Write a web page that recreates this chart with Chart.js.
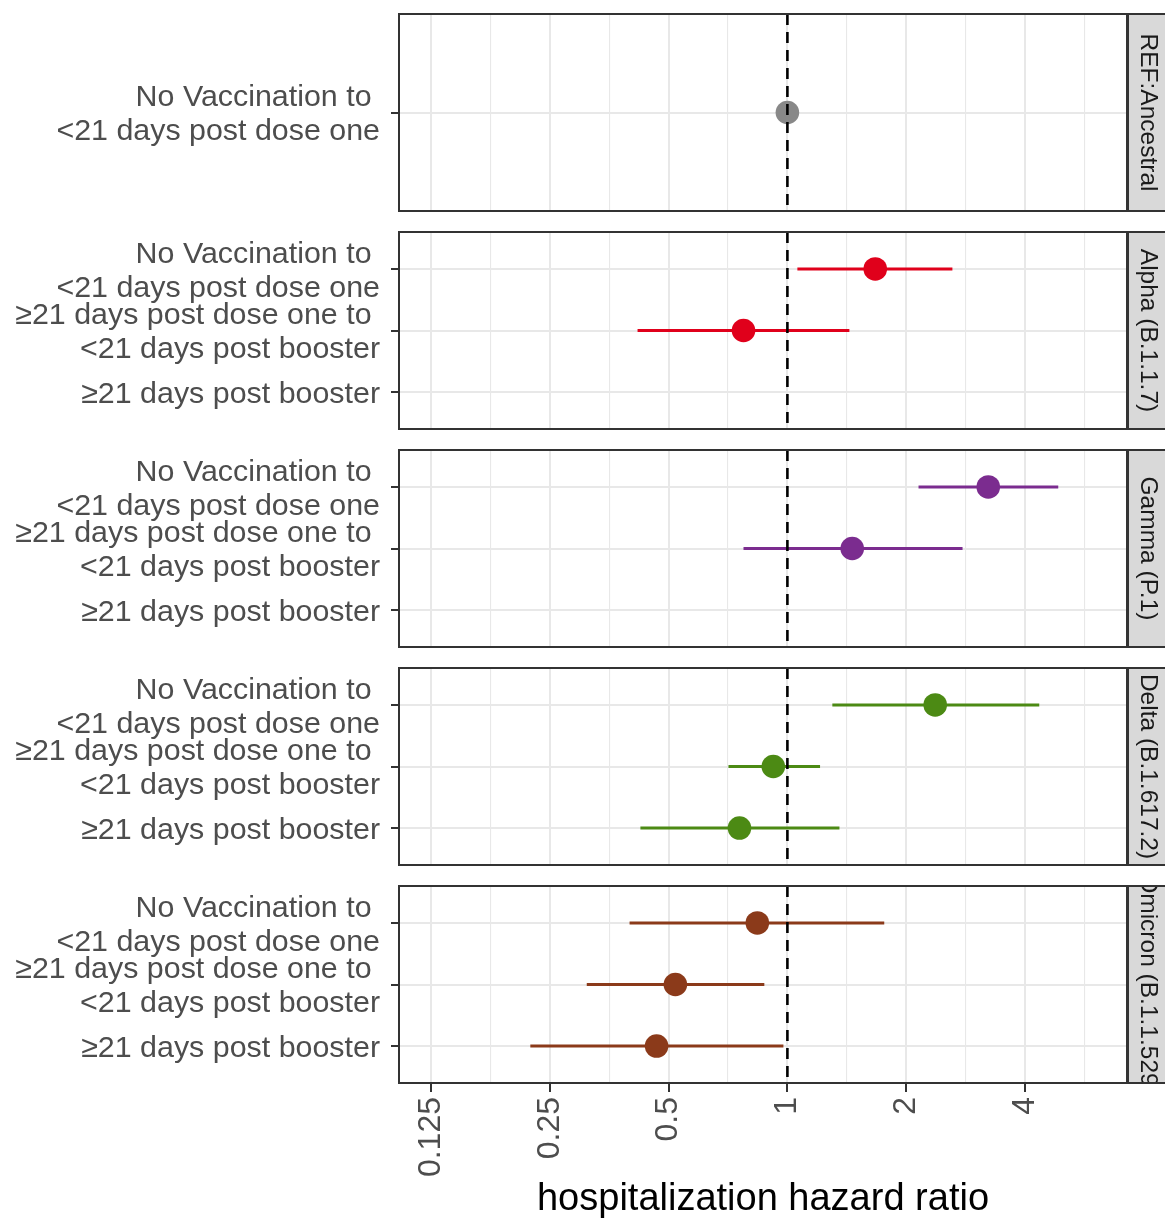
<!DOCTYPE html>
<html>
<head>
<meta charset="utf-8">
<script src="https://cdn.jsdelivr.net/npm/chart.js@4"></script>
<style>
  html, body { margin: 0; padding: 0; background: #fff; overflow: hidden; width: 1165px; height: 1222px; }
  canvas { position: absolute; left: 0; }
</style>
</head>
<body>
<script>
// facet labels, colours and row labels
const variants = ['REF:Ancestral', 'Alpha (B.1.1.7)', 'Gamma (P.1)', 'Delta (B.1.617.2)', 'Omicron (B.1.1.529)'];
const variantColors = ['#888888', '#E0001B', '#7B2C8F', '#4C8A14', '#8B3A1A'];
const rowLabels = [
    ['No Vaccination to ', '<21 days post dose one'],
    ['≥21 days post dose one to ', '<21 days post booster'],
    ['≥21 days post booster']
];
const rowsPerPanel = [1, 3, 3, 3, 3];

// hazard ratio estimate and 95% CI per panel (null = no estimate)
const hrEstimate = [[1.0], [1.67, 0.774, null], [3.23, 1.46, null], [2.37, 0.921, 0.756], [0.839, 0.520, 0.466]];
const hrLower    = [[null], [1.06, 0.417, null], [2.15, 0.774, null], [1.30, 0.709, 0.424], [0.398, 0.310, 0.223]];
const hrUpper    = [[null], [2.62, 1.436, null], [4.86, 2.78, null], [4.35, 1.21, 1.355], [1.76, 0.874, 0.977]];

// x axis (log2)
const xTickValues = [0.125, 0.25, 0.5, 1, 2, 4];
const xTickLabels = ['0.125', '0.25', '0.5', '1', '2', '4'];
const xLimits = [0.1036, 7.26];

const FONT = '"Liberation Sans", Arial, Helvetica, sans-serif';
const PANEL_TOP = 14, PANEL_H = 197, PANEL_STEP = 218;
const AXIS_LEFT = 399, PAD_RIGHT = 38, STRIP_W = 42;
const X_AXIS_H = 139;

const lg = v => (v == null ? null : Math.log2(v));

// minor grid at midpoints between majors (log scale)
const xGrid = [];
xTickValues.forEach(v => {
    xGrid.push(lg(v));
    xGrid.push(lg(v) + 0.5);
});
const isMajor = v => xTickValues.some(t => Math.abs(lg(t) - v) < 1e-9);

// panel border + facet strip on the right (strip text clipped like ggplot)
const panelFrame = {
    id: 'panelFrame',
    afterDraw(chart, args, opts) {
        const { ctx, chartArea: a } = chart;
        const h = a.bottom - a.top;
        ctx.save();
        ctx.strokeStyle = '#333333';
        ctx.lineWidth = 2;
        ctx.strokeRect(a.left, a.top, a.right - a.left, h);
        const sx = a.right + 1;
        ctx.fillStyle = '#D9D9D9';
        ctx.fillRect(sx, a.top, STRIP_W, h);
        ctx.save();
        ctx.beginPath();
        ctx.rect(sx, a.top, STRIP_W, h);
        ctx.clip();
        ctx.translate(sx + STRIP_W / 2 - 1, (a.top + a.bottom) / 2);
        ctx.rotate(Math.PI / 2);
        ctx.fillStyle = '#1A1A1A';
        ctx.font = '24.5px ' + FONT;
        ctx.textAlign = 'center';
        ctx.textBaseline = 'middle';
        ctx.fillText(opts.label, 0, 0);
        ctx.restore();
        ctx.strokeRect(sx, a.top, STRIP_W, h);
        ctx.restore();
    }
};

function crearPanel(i) {
    const last = i === variants.length - 1;
    const n = rowsPerPanel[i];
    const color = variantColors[i];
    const top = PANEL_TOP + PANEL_STEP * i - 2;
    const height = last ? 1222 - top : PANEL_H + 4;

    const canvas = document.createElement('canvas');
    canvas.width = 1165;
    canvas.height = height;
    canvas.style.top = top + 'px';
    document.body.appendChild(canvas);

    const datasets = [];
    // reference line at HR = 1
    datasets.push({
        type: 'line',
        data: [{ x: lg(1), y: -0.6 }, { x: lg(1), y: n - 0.4 }],
        borderColor: '#000000',
        borderWidth: 2.6,
        borderDash: [11, 7],
        pointRadius: 0,
        order: 0
    });
    // point estimates
    const pts = [];
    for (let j = 0; j < n; j++) {
        if (hrEstimate[i][j] != null) pts.push({ x: lg(hrEstimate[i][j]), y: j });
    }
    datasets.push({
        type: 'scatter',
        data: pts,
        backgroundColor: color,
        borderWidth: 0,
        pointRadius: 11.8,
        order: 1
    });
    // confidence intervals
    for (let j = 0; j < n; j++) {
        if (hrLower[i][j] == null) continue;
        datasets.push({
            type: 'line',
            data: [{ x: lg(hrLower[i][j]), y: j }, { x: lg(hrUpper[i][j]), y: j }],
            borderColor: color,
            borderWidth: 3,
            pointRadius: 0,
            order: 2
        });
    }

    return new Chart(canvas.getContext('2d'), {
        type: 'scatter',
        data: { datasets },
        plugins: [panelFrame],
        options: {
            responsive: false,
            animation: false,
            events: [],
            layout: { autoPadding: false, padding: { top: 2, bottom: last ? 0 : 2, left: 0, right: PAD_RIGHT } },
            plugins: {
                legend: { display: false },
                tooltip: { enabled: false },
                panelFrame: { label: variants[i] }
            },
            scales: {
                x: {
                    type: 'linear',
                    min: lg(xLimits[0]),
                    max: lg(xLimits[1]),
                    afterBuildTicks: s => { s.ticks = xGrid.map(v => ({ value: v })); },
                    afterFit: s => {
                        s.height = last ? X_AXIS_H : 0;
                        s.paddingLeft = 0;
                        s.paddingRight = 0;
                    },
                    border: { display: false },
                    grid: {
                        color: '#E8E8E8',
                        lineWidth: c => (isMajor(c.tick.value) ? 2 : 1.1),
                        drawTicks: last,
                        tickLength: 9,
                        tickWidth: 2,
                        tickColor: c => (isMajor(c.tick.value) ? '#333333' : 'rgba(0,0,0,0)')
                    },
                    ticks: {
                        display: last,
                        autoSkip: false,
                        minRotation: 90,
                        maxRotation: 90,
                        padding: 5,
                        color: '#4D4D4D',
                        font: { family: FONT, size: 32 },
                        callback: v => {
                            const k = xTickValues.findIndex(t => Math.abs(lg(t) - v) < 1e-9);
                            return k < 0 ? '' : xTickLabels[k];
                        }
                    },
                    title: {
                        display: last,
                        text: 'hospitalization hazard ratio',
                        color: '#000000',
                        font: { family: FONT, size: 38, lineHeight: 1.2 },
                        padding: 0
                    }
                },
                y: {
                    type: 'linear',
                    reverse: true,
                    min: -0.6,
                    max: n - 0.4,
                    afterBuildTicks: s => {
                        const t = [];
                        for (let j = 0; j < n; j++) t.push({ value: j });
                        s.ticks = t;
                    },
                    afterFit: s => {
                        s.width = AXIS_LEFT;
                        s.paddingTop = 0;
                        s.paddingBottom = 0;
                    },
                    border: { display: false },
                    grid: {
                        color: '#E8E8E8',
                        lineWidth: 2,
                        tickLength: 8,
                        tickWidth: 2,
                        tickColor: '#333333'
                    },
                    ticks: {
                        autoSkip: false,
                        padding: 11,
                        labelOffset: 2.5,
                        color: '#4D4D4D',
                        font: { family: FONT, size: 30.4, lineHeight: 1.12 },
                        callback: v => rowLabels[v]
                    }
                }
            }
        }
    });
}

for (let i = 0; i < variants.length; i++) crearPanel(i);
</script>
</body>
</html>
